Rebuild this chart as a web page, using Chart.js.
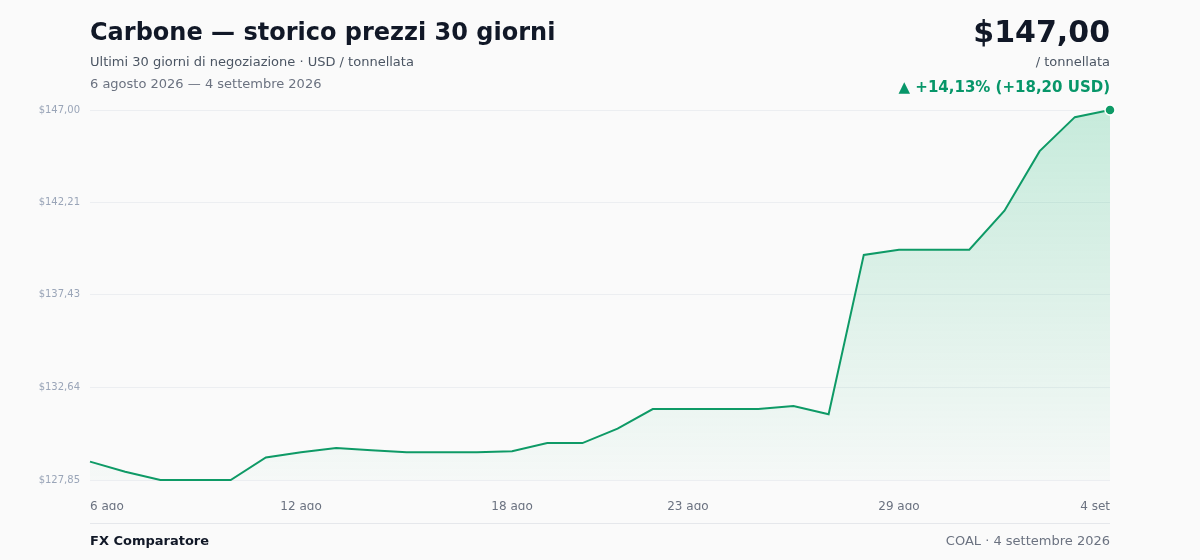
<!DOCTYPE html>
<html>
<head>
<meta charset="utf-8">
<script src="https://cdn.jsdelivr.net/npm/chart.js@4/dist/chart.umd.min.js"></script>
<style>
  body { margin:0; background:#fafafa; font-family:"DejaVu Sans", sans-serif; }
  #wrap { position:relative; width:1200px; height:560px; overflow:hidden; }
  #wrap canvas { position:absolute; left:0; top:0; }
  .t { position:absolute; white-space:nowrap; }
</style>
</head>
<body>
<div id="wrap">
  <canvas id="c" width="1200" height="560"></canvas>
  <div class="t" style="left:90px;top:18px;font-size:24px;font-weight:bold;color:#111827">Carbone — storico prezzi 30 giorni</div>
  <div class="t" style="left:90px;top:54px;font-size:13px;color:#4b5563">Ultimi 30 giorni di negoziazione · USD / tonnellata</div>
  <div class="t" style="left:90px;top:76px;font-size:13px;color:#6b7280">6 agosto 2026 — 4 settembre 2026</div>
  <div class="t" style="right:90px;top:14px;font-size:30px;font-weight:bold;color:#111827">$147,00</div>
  <div class="t" style="right:90px;top:54px;font-size:13px;color:#4b5563">/ tonnellata</div>
  <div class="t" style="right:90px;top:78px;font-size:15px;font-weight:bold;color:#079669">▲ +14,13% (+18,20 USD)</div>
  <div style="position:absolute;left:90px;width:1020px;top:523px;border-top:1px solid #e5e7eb"></div>
  <div class="t" style="left:90px;top:533px;font-size:13px;font-weight:bold;color:#111827">FX Comparatore</div>
  <div class="t" style="right:90px;top:533px;font-size:13px;color:#6b7280">COAL · 4 settembre 2026</div>
</div>
<script>
const days = ['6 ago','7 ago','8 ago','9 ago','10 ago','11 ago','12 ago','13 ago','14 ago','15 ago',
  '16 ago','17 ago','18 ago','19 ago','20 ago','21 ago','22 ago','23 ago','24 ago','25 ago',
  '26 ago','27 ago','28 ago','29 ago','30 ago','31 ago','1 set','2 set','3 set','4 set'];
const prices = [128.80,128.28,127.85,127.85,127.85,129.02,129.29,129.50,129.39,129.29,
  129.29,129.29,129.34,129.76,129.76,130.51,131.52,131.52,131.52,131.52,
  131.68,131.25,139.50,139.77,139.77,139.77,141.79,144.87,146.63,147.00];
const shownTicks = ['6 ago','12 ago','18 ago','23 ago','29 ago','4 set'];
const yTicks = [127.85,132.64,137.43,142.21,147.00];

const fmt = v => '$' + v.toFixed(2).replace('.', ',');
const last = prices.length - 1;

new Chart(document.getElementById('c'), {
  type: 'line',
  data: {
    labels: days,
    datasets: [{
      data: prices,
      borderColor: '#0e9a66',
      borderWidth: 2,
      tension: 0,
      fill: 'start',
      backgroundColor: ctx => {
        const a = ctx.chart.chartArea;
        if (!a) return 'rgba(16,170,110,0.15)';
        const g = ctx.chart.ctx.createLinearGradient(0, a.top, 0, a.bottom);
        g.addColorStop(0, 'rgba(16,180,110,0.22)');
        g.addColorStop(1, 'rgba(16,180,110,0.02)');
        return g;
      },
      pointRadius: ctx => ctx.dataIndex === last ? 5 : 0,
      pointBackgroundColor: '#0e9a66',
      pointBorderColor: '#ffffff',
      pointBorderWidth: 1.5,
      clip: false
    }]
  },
  options: {
    responsive: false,
    animation: false,
    layout: { padding: { left: 30, right: 90, top: 110, bottom: 50 } },
    plugins: { legend: { display: false }, tooltip: { enabled: false } },
    scales: {
      x: {
        grid: { display: false },
        border: { display: false },
        afterFit: s => { s.height = 30; },
        ticks: {
          autoSkip: false, maxRotation: 0, align: 'inner', padding: 12,
          color: '#6b7280', font: { size: 12, family: 'DejaVu Sans' },
          callback: (v, i) => shownTicks.includes(days[i]) ? days[i] : ''
        }
      },
      y: {
        min: yTicks[0], max: yTicks[yTicks.length - 1],
        afterBuildTicks: s => { s.ticks = yTicks.map(v => ({ value: v })); },
        afterFit: s => { s.width = 60; },
        border: { display: false },
        grid: { color: '#eceef1', drawTicks: false, lineWidth: 1 },
        ticks: {
          padding: 10, color: '#9aa5b8', font: { size: 10, family: 'DejaVu Sans' },
          callback: v => fmt(v)
        }
      }
    }
  },
  plugins: [{
    id: 'dash',
    beforeDraw: ch => { ch.scales.y.options.grid.borderDash = [4, 4]; }
  }]
});
</script>
</body>
</html>
